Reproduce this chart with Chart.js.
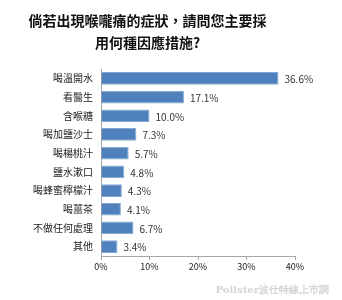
<!DOCTYPE html>
<html>
<head>
<meta charset="utf-8">
<script src="https://cdn.jsdelivr.net/npm/chart.js@4"></script>
<style>
  html, body { margin: 0; padding: 0; background: #fff; }
  #wrap { width: 342px; height: 300px; }
</style>
</head>
<body>
<div id="wrap"><canvas id="chart" width="342" height="300"></canvas></div>
<script>
// Data
const titleLines = ['倘若出現喉嚨痛的症狀，請問您主要採', '用何種因應措施?'];
const categories = ['喝溫開水', '看醫生', '含喉糖', '喝加鹽沙士', '喝楊桃汁', '鹽水漱口', '喝蜂蜜檸檬汁', '喝薑茶', '不做任何處理', '其他'];
const values = [36.6, 17.1, 10.0, 7.3, 5.7, 4.8, 4.3, 4.1, 6.7, 3.4];
const xTicks = [0, 10, 20, 30, 40];
const watermark = 'Pollster波仕特線上市調';

const FONT = '"Noto Sans CJK TC", "Noto Sans", sans-serif';

// value labels at the end of each bar + watermark
const labelPlugin = {
    id: 'barLabels',
    afterDatasetsDraw(chart) {
        const ctx = chart.ctx;
        const meta = chart.getDatasetMeta(0);
        ctx.save();
        ctx.font = '10px ' + FONT;
        ctx.fillStyle = '#333';
        ctx.textAlign = 'left';
        ctx.textBaseline = 'middle';
        meta.data.forEach((bar, i) => {
            ctx.fillText(values[i].toFixed(1) + '%', bar.x + 6, bar.y + 1);
        });
        ctx.font = 'bold 10px "DejaVu Serif", serif';
        ctx.fillStyle = '#d4d4d4';
        ctx.textAlign = 'right';
        ctx.fillText(watermark, 329, 290);
        ctx.restore();
    }
};

new Chart(document.getElementById('chart').getContext('2d'), {
    type: 'bar',
    data: {
        labels: categories,
        datasets: [{
            data: values,
            backgroundColor: '#4f81bd',
            borderColor: '#86a8d6',
            borderWidth: 1,
            barPercentage: 0.68,
            categoryPercentage: 1.0
        }]
    },
    options: {
        indexAxis: 'y',
        responsive: false,
        animation: false,
        layout: { padding: { left: 0, right: 47, top: 0, bottom: 0 } },
        plugins: {
            legend: { display: false },
            tooltip: { enabled: false },
            title: {
                display: true,
                text: titleLines,
                color: '#111',
                font: { family: FONT, size: 14, weight: 'bold', lineHeight: 1.55 },
                padding: { top: 10, bottom: 15.6 }
            }
        },
        scales: {
            x: {
                min: 0,
                max: 40,
                afterBuildTicks: s => { s.ticks = xTicks.map(v => ({ value: v })); },
                afterFit: s => { s.height = 44; },
                border: { display: true, color: '#a6a6a6' },
                grid: { drawOnChartArea: false, tickLength: 4, color: '#a6a6a6' },
                ticks: {
                    color: '#222',
                    padding: 1,
                    font: { family: FONT, size: 9 },
                    callback: v => v + '%'
                }
            },
            y: {
                afterFit: s => { s.width = 101; },
                border: { display: true, color: '#a6a6a6' },
                grid: { display: false, drawTicks: false },
                ticks: {
                    color: '#222',
                    padding: 8,
                    autoSkip: false,
                    font: { family: FONT, size: 10 }
                }
            }
        }
    },
    plugins: [labelPlugin]
});
</script>
</body>
</html>
